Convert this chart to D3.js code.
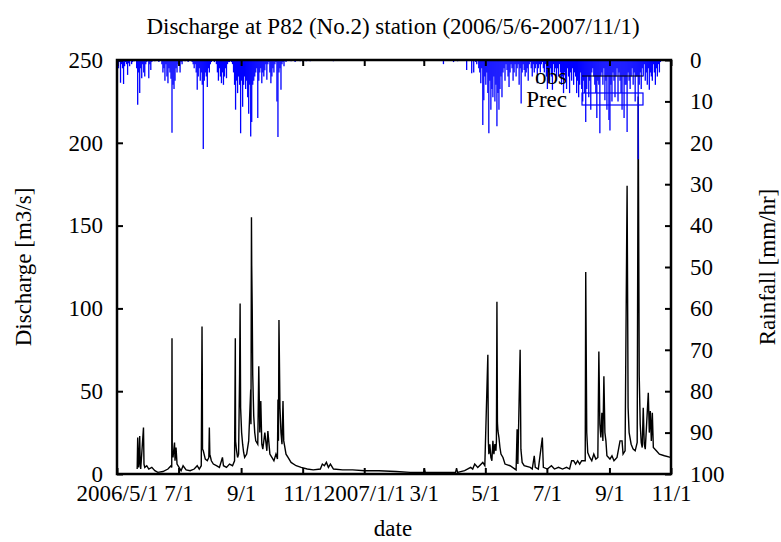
<!DOCTYPE html>
<html>
<head>
<meta charset="utf-8">
<script src="https://cdn.jsdelivr.net/npm/d3@7"></script>
<style>
  body { margin: 0; background: #fff; }
  svg text { font-family: "Liberation Serif", "DejaVu Serif", serif; fill: #000; }
</style>
</head>
<body>
<div id="chart"></div>
<script>
const svgWidth = 781;
const svgHeight = 542;
const margins = {top: 60, right: 110, bottom: 68, left: 117};

const obsTimes = [
  "2006-05-21 00","2006-05-21 12","2006-05-22 00","2006-05-22 12","2006-05-23 12","2006-05-24 00","2006-05-24 12",
  "2006-05-27 06","2006-05-27 18","2006-05-28 12","2006-05-30 12","2006-06-01 12","2006-06-04 12","2006-06-07 12",
  "2006-06-10 12","2006-06-15 12","2006-06-20 12","2006-06-23 12","2006-06-24 06","2006-06-24 12","2006-06-24 18",
  "2006-06-25 12","2006-06-27 00","2006-06-27 12","2006-06-28 12","2006-06-29 12","2006-07-01 12","2006-07-03 12",
  "2006-07-05 12","2006-07-08 12","2006-07-12 12","2006-07-16 12","2006-07-19 12","2006-07-21 12","2006-07-23 12",
  "2006-07-24 06","2006-07-24 12","2006-07-24 18","2006-07-25 12","2006-07-27 12","2006-07-29 12","2006-07-31 00",
  "2006-07-31 12","2006-08-01 00","2006-08-02 12","2006-08-04 12","2006-08-07 12","2006-08-10 12","2006-08-13 12",
  "2006-08-14 12","2006-08-17 12","2006-08-20 12","2006-08-23 12","2006-08-25 12","2006-08-26 06","2006-08-26 12",
  "2006-08-27 12","2006-08-28 12","2006-08-29 12","2006-08-30 12","2006-08-31 00","2006-08-31 12","2006-09-01 12",
  "2006-09-02 12","2006-09-03 12","2006-09-04 12","2006-09-06 12","2006-09-08 12","2006-09-10 12","2006-09-10 18",
  "2006-09-11 06","2006-09-11 12","2006-09-12 00","2006-09-12 12","2006-09-13 12","2006-09-14 12","2006-09-15 12",
  "2006-09-17 12","2006-09-18 12","2006-09-19 12","2006-09-20 12","2006-09-21 12","2006-09-22 12","2006-09-24 12",
  "2006-09-26 12","2006-09-27 12","2006-09-29 12","2006-10-01 12","2006-10-03 12","2006-10-05 12","2006-10-07 00",
  "2006-10-07 12","2006-10-08 00","2006-10-08 12","2006-10-09 12","2006-10-10 12","2006-10-11 12","2006-10-12 12",
  "2006-10-13 06","2006-10-15 12","2006-10-17 12","2006-10-20 12","2006-10-25 12","2006-10-30 12","2006-11-05 12",
  "2006-11-11 12","2006-11-18 12","2006-11-20 12","2006-11-22 12","2006-11-24 12","2006-11-26 12","2006-11-28 12",
  "2006-12-01 12","2006-12-10 12","2006-12-20 12","2007-01-01 12","2007-01-15 12","2007-02-01 12","2007-02-15 12",
  "2007-03-01 00","2007-03-01 12","2007-03-02 12","2007-03-15 12","2007-04-01 12","2007-04-02 12","2007-04-03 12",
  "2007-04-10 12","2007-04-16 12","2007-04-18 12","2007-04-20 12","2007-04-23 12","2007-04-28 12","2007-04-30 12",
  "2007-05-03 12","2007-05-04 00","2007-05-04 12","2007-05-05 12","2007-05-06 12","2007-05-07 12","2007-05-08 12",
  "2007-05-09 12","2007-05-10 12","2007-05-11 12","2007-05-12 00","2007-05-12 12","2007-05-13 00","2007-05-13 12",
  "2007-05-14 12","2007-05-15 12","2007-05-16 12","2007-05-18 12","2007-05-20 12","2007-05-25 12","2007-05-31 12",
  "2007-06-01 12","2007-06-02 06","2007-06-04 12","2007-06-05 06","2007-06-06 12","2007-06-08 12","2007-06-14 12",
  "2007-06-16 12","2007-06-18 12","2007-06-19 12","2007-06-22 12","2007-06-26 12","2007-06-27 12","2007-07-01 12",
  "2007-07-05 12","2007-07-08 12","2007-07-12 12","2007-07-16 12","2007-07-20 12","2007-07-23 12","2007-07-25 12",
  "2007-07-27 12","2007-07-29 12","2007-07-31 12","2007-08-02 12","2007-08-04 12","2007-08-08 00","2007-08-08 12",
  "2007-08-09 12","2007-08-10 12","2007-08-12 12","2007-08-14 12","2007-08-16 12","2007-08-18 12","2007-08-20 12",
  "2007-08-21 12","2007-08-22 12","2007-08-23 12","2007-08-24 12","2007-08-25 12","2007-08-26 12","2007-08-27 12",
  "2007-08-28 12","2007-08-29 12","2007-09-01 12","2007-09-03 12","2007-09-05 12","2007-09-08 12","2007-09-11 12",
  "2007-09-13 12","2007-09-14 12","2007-09-16 12","2007-09-18 12","2007-09-19 12","2007-09-20 12","2007-09-22 12",
  "2007-09-24 12","2007-09-26 12","2007-09-28 12","2007-09-29 12","2007-09-30 12","2007-10-01 12","2007-10-02 12",
  "2007-10-03 12","2007-10-04 12","2007-10-05 12","2007-10-06 12","2007-10-09 12","2007-10-10 12","2007-10-11 12",
  "2007-10-12 12","2007-10-13 12","2007-10-14 12","2007-10-17 12","2007-10-20 12","2007-10-25 12","2007-10-31 12"
];
const obsFlow = [
  3,22,5,4,23,6,3,
  28,6,4,5,3,4,2,
  1,1.5,3,5,4,82,12,
  10,19,8,16,6,4,2,
  5,2.5,2,3,5,3,5,
  89,61,15,14,9,8,10,
  28,12,8,6,5,4,10,
  5,4,6,5,8,82,20,
  14,10,12,61,103,40,25,
  18,13,10,12,20,51,30,
  155,126,100,60,35,25,20,
  18,65,25,44,18,15,25,
  14,26,12,10,8,12,9,
  45,20,93,40,25,18,44,
  20,12,10,7,5,4,3,
  2.5,3,6,5,7,4,6,
  3,2.5,2.5,2,2,1.5,1,
  1,3,1,1,1,3.5,1,
  2,4,3,6,4,7,5,
  72,20,12,18,10,8,20,
  12,18,14,20,104,31,26,
  22,16,12,10,6,5,2.5,
  27,6,75,15,7,5,4,
  3,11,4,3,22,4,3,
  5,3,4,3,4,3,8,
  8,6,8,6,8,8,122,
  25,13,10,8,12,9,10,
  74,30,22,37,20,59,25,
  20,11,9,11,8,10,20,
  20,12,14,174,40,25,18,
  15,14,19,228,60,30,19,
  16,40,18,15,49,25,38,
  20,37,16,14,12,11,10
];

// hourly rainfall peaks per day (mm/hr), two rainy seasons
const rainStart2006 = "2006-05-01";
const rain2006 = [
  1,2,0.5,5.5,1,2,5.8,1.5,0.5,1,
  3.6,0.8,1.5,0,1,0.5,0,0.3,0,2,
  10.8,3,8,2,4.4,1,3,4,1,0.5,
  0,4.4,1,2.4,0.5,0,0,0.3,0,0,
  0,0.5,0,0,1,3,2,5,1,4,
  5.6,2,3,4.5,17.6,6,7,5,2,3,
  1,0.5,3,0.5,1,0,0,0.3,0,0,
  0.5,0,0,0,0.5,1,2,1,3,7.2,
  4,2,5,3,6,21.5,5,3,4,6.5,
  2,3,1,0.5,0,0,0.5,0,1,3,
  5,2,4,5.6,3,6,4,2,4.4,1,
  0.5,0.5,0,0.5,1,3,6,12,5,8,
  4,6,17.7,5,11.3,6,4,7,5,9,
  13,6,18.5,15,6,5,4,3,2,14,
  5,3,2,5.6,3,4,2.5,1,4.8,1,
  0.5,3,5.6,4,2,3,1,0.5,10,18.6,
  3,2,7.2,1,0.5,1.5,0,0.5,0,0,
  0,0,0.3,0,0,0,0.5,0,0,0,
  0,0.3,0,0,0.5,0,0,0.3,0,0,
  0,0.3,0,0,0,0,0,0,0,0,
  0,0,0,0,0,0,0,0,0,0,
  0,0,0,0,0.3
];
const rainStart2007 = "2007-03-01";
const rain2007 = [
  0.5,0,0,0,0,0,0,0,0,0,
  0,0,0,0,0,0,0,0,0,1,
  0,0,0,0,0,0,0,0,0,0.5,
  0,0,0,0.3,0,0,0,0,0,0,
  0,0,2.4,0,0,0,0,3.2,0,3,
  0,0.5,1,0,2,3,5.6,2,15.7,9.7,
  4,6,3,8,17.7,5,12,7,9,4,
  10,6,16,8,12,7,4,9,3,2,
  5,1,2.4,4,6.5,3,1,2,5,3,
  1,4,2,1,6,2,10.5,3,1,2.4,
  4,3,2,5,1,0.5,2,4,1,3,
  2,1,5.6,2,1,3,1,0.5,2,3,
  1,4,7,3,5,2,4,7.2,1,3,
  2,5,2,4,1,3,6,4,8,3,
  5,7,2,4,8,3,5,2,6,3,
  4,8,5,9,6,3,7,10,5,8,
  15,7,4,9,5,12,3,2,4,6,
  8,14,5,6,17.7,4,3,6,2,9.7,
  5,12,4,14.5,17,6,10,3,5,9,
  4,2,10,3,5,8,12,4,14,6,
  6,17.4,3,5,7,4,2,6,3,10,
  4,4,24,6,3,7,2,4,1,5,
  3,6,2,7.2,3,4,5,1,3,6,
  2,4,1,3,0.5
];

const xTickDates = ["2006-05-01","2006-07-01","2006-09-01","2006-11-01","2007-01-01",
                    "2007-03-01","2007-05-01","2007-07-01","2007-09-01","2007-11-01"];
const xTickLabels = ["2006/5/1","7/1","9/1","11/1","2007/1/1","3/1","5/1","7/1","9/1","11/1"];
const yTicks = [0, 50, 100, 150, 200, 250];
const y2Ticks = [0, 10, 20, 30, 40, 50, 60, 70, 80, 90, 100];

const parseHour = d3.timeParse("%Y-%m-%d %H");
const parseDay = d3.timeParse("%Y-%m-%d");

const obsData = obsTimes.map((t, i) => ({date: parseHour(t), value: obsFlow[i]}));

function seasonRows(start, vals) {
  const s = parseDay(start);
  return vals.map((v, i) => ({date: d3.timeHour.offset(d3.timeDay.offset(s, i), 12), value: v}));
}
const rainData = seasonRows(rainStart2006, rain2006).concat(seasonRows(rainStart2007, rain2007))
  .filter(d => d.value > 0);

const plotW = svgWidth - margins.left - margins.right;
const plotH = svgHeight - margins.top - margins.bottom;

const svg = d3.select("#chart").append("svg")
  .attr("width", svgWidth)
  .attr("height", svgHeight);

const xScale = d3.scaleTime()
  .domain([parseDay("2006-05-01"), parseDay("2007-11-01")])
  .range([margins.left, margins.left + plotW]);

const yScale = d3.scaleLinear()
  .domain([0, 250])
  .range([margins.top + plotH, margins.top]);

// rainfall axis is flipped: 0 at the top
const y2Scale = d3.scaleLinear()
  .domain([0, 100])
  .range([margins.top, margins.top + plotH]);

const plot = svg.append("g");

plot.append("path")
  .datum(obsData)
  .attr("fill", "none")
  .attr("stroke", "#000")
  .attr("stroke-width", 1.4)
  .attr("d", d3.line().x(d => xScale(d.date)).y(d => yScale(d.value)));

plot.append("g")
  .attr("stroke", "#0000ff")
  .attr("stroke-width", 1.3)
  .selectAll("line")
  .data(rainData)
  .join("line")
    .attr("x1", d => xScale(d.date))
    .attr("x2", d => xScale(d.date))
    .attr("y1", y2Scale(0))
    .attr("y2", d => y2Scale(d.value));

// axes
const fontSize = "23px";
const xTicks = xTickDates.map(parseDay);

function xAxis(g) {
  g.attr("transform", "translate(0," + (margins.top + plotH) + ")")
    .call(d3.axisBottom(xScale).tickValues(xTicks).tickSize(-6).tickPadding(11)
      .tickFormat((d, i) => xTickLabels[i]));
  g.select(".domain").remove();
  g.selectAll("text").attr("font-size", fontSize);
}
function xAxisTop(g) {
  g.attr("transform", "translate(0," + margins.top + ")")
    .call(d3.axisTop(xScale).tickValues(xTicks).tickSize(-6).tickFormat(""));
  g.select(".domain").remove();
}
function yAxis(g) {
  g.attr("transform", "translate(" + margins.left + ",0)")
    .call(d3.axisLeft(yScale).tickValues(yTicks).tickSize(-6).tickPadding(14));
  g.select(".domain").remove();
  g.selectAll("text").attr("font-size", fontSize);
}
function y2Axis(g) {
  g.attr("transform", "translate(" + (margins.left + plotW) + ",0)")
    .call(d3.axisRight(y2Scale).tickValues(y2Ticks).tickSize(-6).tickPadding(19));
  g.select(".domain").remove();
  g.selectAll("text").attr("font-size", fontSize);
}

svg.append("g").call(xAxis);
svg.append("g").call(xAxisTop);
svg.append("g").call(yAxis);
svg.append("g").call(y2Axis);
svg.selectAll(".tick line").attr("stroke", "#000").attr("stroke-width", 2);
svg.selectAll("g").attr("font-family", null);

// frame
svg.append("rect")
  .attr("x", margins.left)
  .attr("y", margins.top)
  .attr("width", plotW)
  .attr("height", plotH)
  .attr("fill", "none")
  .attr("stroke", "#000")
  .attr("stroke-width", 2.5);

// legend
const legendX = 567;
svg.append("text").attr("x", legendX).attr("y", 84).attr("text-anchor", "end")
  .attr("font-size", fontSize).text("obs");
svg.append("line").attr("x1", 582).attr("x2", 643).attr("y1", 76).attr("y2", 76)
  .attr("stroke", "#000").attr("stroke-width", 1.2);
svg.append("text").attr("x", legendX).attr("y", 107).attr("text-anchor", "end")
  .attr("font-size", fontSize).text("Prec");
svg.append("rect").attr("x", 582).attr("y", 93).attr("width", 61).attr("height", 12)
  .attr("fill", "none").attr("stroke", "#0000ff").attr("stroke-width", 1.2);

// titles
svg.append("text")
  .attr("x", 393).attr("y", 34)
  .attr("text-anchor", "middle")
  .attr("font-size", fontSize)
  .text("Discharge at P82 (No.2) station (2006/5/6-2007/11/1)");

svg.append("text")
  .attr("x", 393).attr("y", 536)
  .attr("text-anchor", "middle")
  .attr("font-size", fontSize)
  .text("date");

svg.append("text")
  .attr("transform", "translate(31," + (margins.top + plotH / 2) + ") rotate(-90)")
  .attr("text-anchor", "middle")
  .attr("font-size", fontSize)
  .text("Discharge [m3/s]");

svg.append("text")
  .attr("transform", "translate(775," + (margins.top + plotH / 2) + ") rotate(-90)")
  .attr("text-anchor", "middle")
  .attr("font-size", fontSize)
  .text("Rainfall [mm/hr]");
</script>
</body>
</html>
